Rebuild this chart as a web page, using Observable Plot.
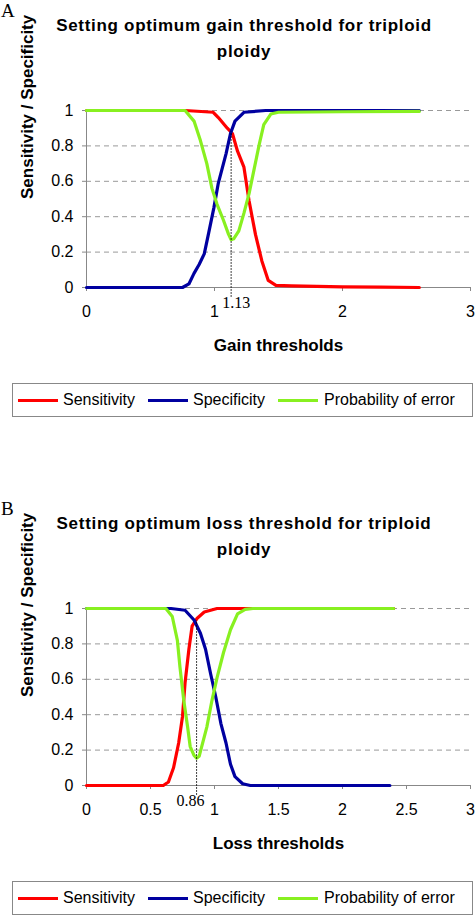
<!DOCTYPE html>
<html>
<head>
<meta charset="utf-8">
<script src="https://cdn.jsdelivr.net/npm/d3@7"></script>
<script src="https://cdn.jsdelivr.net/npm/@observablehq/plot@0.6"></script>
<style>
  html, body { margin: 0; padding: 0; background: #fff; }
  #root { position: relative; width: 475px; height: 917px; overflow: hidden; font-family: "Liberation Sans", Arial, sans-serif; }
  .letter { position: absolute; left: 1px; font-family: "Liberation Serif", "Times New Roman", serif; font-size: 19px; line-height: 20px; }
  .title { position: absolute; white-space: nowrap; transform: translateX(-50%); font-weight: bold; font-size: 17px; letter-spacing: 0.7px; line-height: 20px; }
  .chart { position: absolute; left: 0; }
  .legend { position: absolute; left: 12px; width: 459px; height: 32px; border: 1px solid #888; background: #fff; }
  .sw { position: absolute; height: 3px; width: 40px; top: 15px; }
  .lt { position: absolute; top: 6px; font-size: 16px; line-height: 20px; white-space: nowrap; }
</style>
</head>
<body>
<div id="root"></div>
<script>
// ---------- data ----------
const yTicks = [0, 0.2, 0.4, 0.6, 0.8, 1];
const gainXTicks = [0, 1, 2, 3];
const lossXTicks = [0, 0.5, 1, 1.5, 2, 2.5, 3];
const seriesNames = ["Sensitivity", "Specificity", "Probability of error"];
const seriesColors = ["#ff0000", "#0000a0", "#88f020"];

// Panel A: gain thresholds
const gainSensX = [0, 0.5, 0.77, 0.99, 1.03, 1.10, 1.14, 1.18, 1.23, 1.27, 1.32, 1.37, 1.42, 1.48, 1.6, 1.8, 2.0, 2.3, 2.6];
const gainSensY = [1, 1, 1, 0.99, 0.96, 0.90, 0.87, 0.77, 0.68, 0.49, 0.30, 0.15, 0.04, 0.012, 0.009, 0.006, 0.004, 0.002, 0];
const gainSpecX = [0, 0.75, 0.80, 0.84, 0.88, 0.92, 0.955, 0.995, 1.03, 1.09, 1.125, 1.16, 1.23, 1.4, 2.0, 2.6];
const gainSpecY = [0, 0, 0.02, 0.08, 0.13, 0.19, 0.31, 0.45, 0.59, 0.755, 0.87, 0.94, 0.99, 1, 1, 1];
const gainErrX = [0, 0.77, 0.84, 0.89, 0.94, 0.98, 1.02, 1.07, 1.11, 1.13, 1.15, 1.19, 1.23, 1.27, 1.31, 1.35, 1.385, 1.44, 1.5, 2.0, 2.6];
const gainErrY = [1, 1, 0.94, 0.83, 0.70, 0.56, 0.47, 0.38, 0.30, 0.27, 0.275, 0.32, 0.42, 0.53, 0.67, 0.81, 0.92, 0.98, 0.99, 0.993, 0.995];
const gainOptimum = 1.13;
const gainOptimumTop = 0.88;

// Panel B: loss thresholds
const lossSensX = [0, 0.60, 0.64, 0.68, 0.72, 0.75, 0.77, 0.80, 0.825, 0.865, 0.92, 1.02, 1.5, 2.4];
const lossSensY = [0, 0, 0.02, 0.10, 0.24, 0.39, 0.58, 0.77, 0.90, 0.945, 0.98, 1, 1, 1];
const lossSpecX = [0, 0.66, 0.77, 0.84, 0.89, 0.93, 0.97, 1.01, 1.05, 1.09, 1.125, 1.16, 1.22, 1.28, 2.37];
const lossSpecY = [1, 1, 0.99, 0.935, 0.86, 0.77, 0.63, 0.50, 0.35, 0.24, 0.12, 0.05, 0.01, 0, 0];
const lossErrX = [0, 0.62, 0.67, 0.71, 0.73, 0.76, 0.79, 0.81, 0.84, 0.86, 0.88, 0.90, 0.94, 0.98, 1.02, 1.07, 1.125, 1.18, 1.24, 1.3, 2.4];
const lossErrY = [1, 1, 0.955, 0.82, 0.67, 0.48, 0.33, 0.22, 0.17, 0.155, 0.165, 0.22, 0.33, 0.48, 0.61, 0.75, 0.88, 0.97, 0.995, 1, 1];
const lossOptimum = 0.86;
const lossOptimumTop = 0.93;

// ---------- drawing ----------
const root = document.getElementById("root");
const zip = (xs, ys) => xs.map((x, i) => ({x, y: ys[i]}));

function panel({top, letter, title1, title2, xLabel, xTicks, series, opt, optTop, optDx}) {
  const el = (cls, html, style) => {
    const d = document.createElement("div");
    d.className = cls; d.innerHTML = html; Object.assign(d.style, style); root.appendChild(d); return d;
  };
  el("letter", letter, {top: (top + 1) + "px"});
  el("title", title1, {left: "244px", top: (top + 16) + "px"});
  el("title", title2, {left: "244px", top: (top + 42) + "px"});

  const chart = Plot.plot({
    width: 475, height: 262,
    marginTop: 10, marginLeft: 86, marginRight: 5, marginBottom: 75,
    x: {domain: [0, 3], label: null},
    y: {domain: [0, 1], label: null},
    style: {fontFamily: "'Liberation Sans', Arial, sans-serif", fontSize: "16px", background: "transparent", overflow: "visible"},
    marks: [
      Plot.ruleY(yTicks.filter(d => d > 0), {stroke: "#999", strokeDasharray: "5,4"}),
      Plot.ruleX([0], {stroke: "#888"}),
      Plot.ruleY([0], {stroke: "#888"}),
      Plot.axisY({ticks: yTicks, tickSize: 4, tickPadding: 9, stroke: "#888", fill: "black", fontSize: 16, tickFormat: d => String(d), label: null}),
      Plot.axisX({ticks: xTicks, tickSize: 4, tickPadding: 14, stroke: "#888", fill: "black", fontSize: 16, tickFormat: d => String(d), label: null}),
      ...series.map((s, i) => Plot.line(s, {x: "x", y: "y", stroke: seriesColors[i], strokeWidth: 3.2, strokeLinejoin: "round"})),
      Plot.ruleX([opt], {x: d => d, y1: -0.055, y2: optTop, stroke: "black", strokeWidth: 1, strokeDasharray: "1.5,1.5"}),
      Plot.text([opt], {x: d => d, frameAnchor: "bottom", dy: 20, dx: optDx, text: d => String(d), fontFamily: "'Liberation Serif', 'Times New Roman', serif", fontSize: 16, fill: "black"}),
      Plot.text([xLabel], {frameAnchor: "bottom", dy: 63, fontWeight: "bold", fontSize: 17, fill: "black", style: "letter-spacing:0.6px"}),
      Plot.text(["Sensitivity / Specificity"], {frameAnchor: "left", dx: -59, rotate: -90, fontWeight: "bold", fontSize: 17, fill: "black"})
    ]
  });
  chart.classList.add("chart");
  chart.style.top = (top + 100) + "px";
  root.appendChild(chart);

  const lg = el("legend", "", {top: (top + 383) + "px"});
  const swLeft = [5, 135, 265];
  const txLeft = [50, 180, 311];
  seriesNames.forEach((n, i) => {
    const s = document.createElement("div");
    s.className = "sw"; s.style.left = swLeft[i] + "px"; s.style.background = seriesColors[i];
    lg.appendChild(s);
    const t = document.createElement("div");
    t.className = "lt"; t.style.left = txLeft[i] + "px"; t.textContent = n;
    lg.appendChild(t);
  });
}

panel({
  top: 0, letter: "A",
  title1: "Setting optimum gain threshold for triploid", title2: "ploidy",
  xLabel: "Gain thresholds", xTicks: gainXTicks,
  series: [zip(gainSensX, gainSensY), zip(gainSpecX, gainSpecY), zip(gainErrX, gainErrY)],
  opt: gainOptimum, optTop: gainOptimumTop, optDx: 5
});
panel({
  top: 498, letter: "B",
  title1: "Setting optimum loss threshold for triploid", title2: "ploidy",
  xLabel: "Loss thresholds", xTicks: lossXTicks,
  series: [zip(lossSensX, lossSensY), zip(lossSpecX, lossSpecY), zip(lossErrX, lossErrY)],
  opt: lossOptimum, optTop: lossOptimumTop, optDx: -6
});
</script>
</body>
</html>
